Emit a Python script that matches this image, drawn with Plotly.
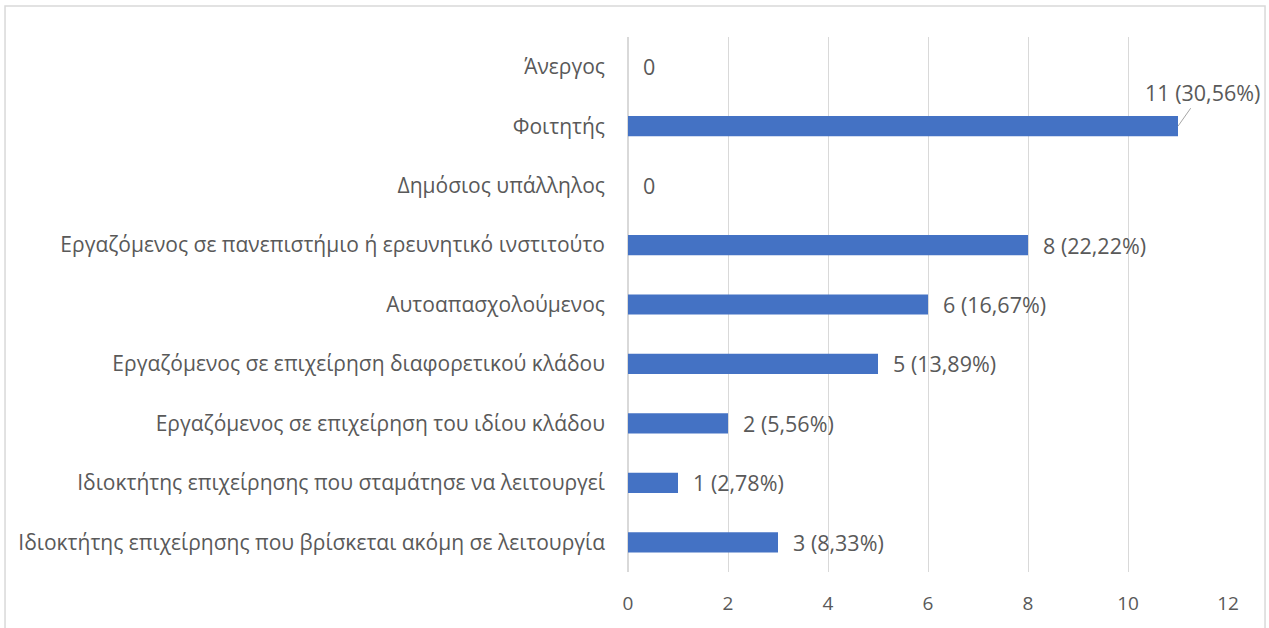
import plotly.graph_objects as go

categories = [
    "Ιδιοκτήτης επιχείρησης που βρίσκεται ακόμη σε λειτουργία",
    "Ιδιοκτήτης επιχείρησης που σταμάτησε να λειτουργεί",
    "Εργαζόμενος σε επιχείρηση του ιδίου κλάδου",
    "Εργαζόμενος σε επιχείρηση διαφορετικού κλάδου",
    "Αυτοαπασχολούμενος",
    "Εργαζόμενος σε πανεπιστήμιο ή ερευνητικό ινστιτούτο",
    "Δημόσιος υπάλληλος",
    "Φοιτητής",
    "Άνεργος",
]
values = [3, 1, 2, 5, 6, 8, 0, 11, 0]
labels = ["3 (8,33%)", "1 (2,78%)", "2 (5,56%)", "5 (13,89%)", "6 (16,67%)",
          "8 (22,22%)", "0", "11 (30,56%)", "0"]
x_ticks = [0, 2, 4, 6, 8, 10, 12]

FONT = "Open Sans"
TXT = "#595959"

fig = go.Figure()
fig.add_trace(go.Bar(
    y=categories, x=values, orientation="h",
    marker=dict(color="#4472C4", line=dict(width=0)),
    width=0.34, hoverinfo="skip",
))

annotations = []
for c, v, t in zip(categories, values, labels):
    if v == max(values):
        annotations.append(dict(
            x=v, y=c, xref="x", yref="y", text=t, showarrow=True,
            arrowhead=0, arrowwidth=1, arrowcolor="#a6a6a6",
            ax=24, ay=-34, xanchor="center", yanchor="middle",
            font=dict(family=FONT, size=21.5, color=TXT),
        ))
    else:
        annotations.append(dict(
            x=v, y=c, xref="x", yref="y", text=t, showarrow=False,
            xanchor="left", xshift=13,
            font=dict(family=FONT, size=21.5, color=TXT),
        ))

fig.update_layout(
    width=1269, height=628,
    margin=dict(l=628, r=41, t=37, b=56, autoexpand=False),
    paper_bgcolor="white", plot_bgcolor="white",
    showlegend=False,
    font=dict(family=FONT, size=18, color=TXT),
    annotations=annotations,
    xaxis=dict(
        range=[0, 12], tickvals=x_ticks, showgrid=True, gridcolor="#d9d9d9",
        gridwidth=1, zeroline=True, zerolinecolor="#d9d9d9", showline=False,
        ticks="", ticklabelstandoff=18, tickfont=dict(family=FONT, size=19, color=TXT),
        fixedrange=True, automargin=False,
    ),
    yaxis=dict(
        showgrid=False, showline=False, ticks="", ticklabelstandoff=22,
        tickfont=dict(family=FONT, size=21, color=TXT), fixedrange=True,
        automargin=False,
    ),
    shapes=[dict(
        type="rect", xref="paper", yref="paper",
        x0=-1.0383, x1=1.0617, y0=-0.13, y1=1.0578,
        line=dict(color="#d9d9d9", width=1.5), fillcolor="rgba(0,0,0,0)", layer="below",
    )],
)

fig.write_html("out.html", config={"displayModeBar": False},
               post_script="document.body.style.margin='0';document.body.style.overflow='hidden';")
